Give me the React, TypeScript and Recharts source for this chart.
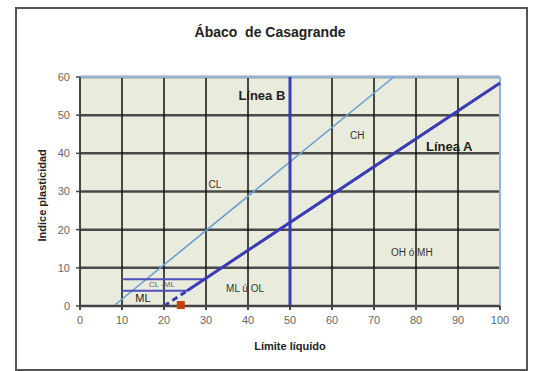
import React from 'react';
import { ComposedChart, Line, Scatter, XAxis, YAxis, CartesianGrid, ReferenceLine } from 'recharts';

const xTicks = [0, 10, 20, 30, 40, 50, 60, 70, 80, 90, 100];
const yTicks = [0, 10, 20, 30, 40, 50, 60];

// Línea A: IP = 0.73 (LL - 20)
const lineADashed = [{ x: 20, y: 0 }, { x: 25.5, y: 4 }];
const lineA = [{ x: 25.5, y: 4 }, { x: 100, y: 58.4 }];
// Línea U (celeste)
const lineU = [{ x: 8, y: 0 }, { x: 74.7, y: 60 }];
// Línea B: LL = 50
const lineB = [{ x: 50, y: 0 }, { x: 50, y: 60 }];
// franja CL-ML
const clmlTop = [{ x: 10, y: 7 }, { x: 29.6, y: 7 }];
const clmlBottom = [{ x: 10, y: 4 }, { x: 25.5, y: 4 }];
// muestra
const sample = [{ x: 24, y: 0.5 }];

const zoneLabels = [
  { x: 43.3, y: 55.2, text: 'Línea B', size: 13, bold: true, color: '#222' },
  { x: 87.9, y: 41.9, text: 'Línea A', size: 13, bold: true, color: '#222' },
  { x: 66, y: 44.8, text: 'CH', size: 10, bold: false, color: '#333' },
  { x: 32.1, y: 31.9, text: 'CL', size: 10, bold: false, color: '#333' },
  { x: 39.3, y: 4.7, text: 'ML ú OL', size: 10, bold: false, color: '#333' },
  { x: 79, y: 14.1, text: 'OH ó MH', size: 10, bold: false, color: '#333' },
  { x: 19.5, y: 5.6, text: 'CL -ML', size: 8, bold: false, color: '#666' },
  { x: 15, y: 2.1, text: 'ML', size: 11, bold: false, color: '#222' },
];

const FONT = '"Liberation Sans", Arial, sans-serif';

const LabelShape = (props: any) => {
  const { cx, cy, payload } = props;
  return (
    <text
      x={cx}
      y={cy}
      textAnchor="middle"
      dominantBaseline="central"
      fontSize={payload.size}
      fontWeight={payload.bold ? 'bold' : 'normal'}
      fill={payload.color}
      fontFamily={FONT}
    >
      {payload.text}
    </text>
  );
};

const SquareShape = (props: any) => {
  const { cx, cy } = props;
  return <rect x={cx - 4} y={cy - 3} width={8} height={8} fill="#c2410c" />;
};

export default function App() {
  return (
    <div style={{ position: 'absolute', left: 0, top: 0, width: 536, height: 371, background: '#fff', fontFamily: FONT }}>
      <div
        style={{
          position: 'absolute', left: 15, top: 7, width: 509, height: 360,
          border: '2px solid #555', boxSizing: 'content-box',
        }}
      />
      <div
        style={{
          position: 'absolute', left: 0, top: 24, width: 540, textAlign: 'center',
          fontSize: 14, fontWeight: 'bold', color: '#222',
        }}
      >
        Ábaco&nbsp; de Casagrande
      </div>
      <div style={{ position: 'absolute', left: 0, top: 0 }}>
        <ComposedChart width={536} height={371} margin={{ top: 77, right: 36, bottom: 45, left: 50 }}>
          <CartesianGrid vertical={false} stroke="#4a4a4a" strokeWidth={2.5} fill="#e9ecdc" />
          <CartesianGrid horizontal={false} stroke="#111" strokeWidth={1.5} />
          <XAxis
            type="number"
            dataKey="x"
            domain={[0, 100]}
            ticks={xTicks}
            height={20}
            tickSize={4}
            tickMargin={6}
            stroke="#444"
            strokeWidth={2}
            tick={{ fontSize: 11, fill: '#666', fontFamily: FONT }}
            label={{ value: 'Límite líquido', position: 'insideBottom', offset: -24, fontSize: 11, fontWeight: 'bold', fill: '#222', fontFamily: FONT }}
          />
          <YAxis
            type="number"
            dataKey="y"
            domain={[0, 60]}
            ticks={yTicks}
            width={30}
            tickSize={4}
            tickMargin={6}
            stroke="#444"
            strokeWidth={1.5}
            tick={{ fontSize: 11, fill: '#666', fontFamily: FONT }}
            label={{ value: 'Indice plasticidad', angle: -90, position: 'insideLeft', offset: -8, dy: 50, fontSize: 11, fontWeight: 'bold', fill: '#222', fontFamily: FONT }}
          />
          <ReferenceLine y={60} stroke="#8fb3d9" strokeWidth={2} />
          <ReferenceLine x={100} stroke="#8fb3d9" strokeWidth={2} />
          <Line data={lineU} dataKey="y" type="linear" stroke="#6a9fd3" strokeWidth={1.6} dot={false} isAnimationActive={false} />
          <Line data={clmlTop} dataKey="y" type="linear" stroke="#5050c0" strokeWidth={2} dot={false} isAnimationActive={false} />
          <Line data={clmlBottom} dataKey="y" type="linear" stroke="#5050c0" strokeWidth={2} dot={false} isAnimationActive={false} />
          <Line data={lineB} dataKey="y" type="linear" stroke="#3a3ab5" strokeWidth={3} dot={false} isAnimationActive={false} />
          <Line data={lineADashed} dataKey="y" type="linear" stroke="#3a3ab5" strokeWidth={3} strokeDasharray="6 4" dot={false} isAnimationActive={false} />
          <Line data={lineA} dataKey="y" type="linear" stroke="#3a3ab5" strokeWidth={3} dot={false} isAnimationActive={false} />
          <Scatter data={sample} dataKey="y" shape={<SquareShape />} isAnimationActive={false} />
          <Scatter data={zoneLabels} dataKey="y" shape={<LabelShape />} isAnimationActive={false} />
        </ComposedChart>
      </div>
    </div>
  );
}
